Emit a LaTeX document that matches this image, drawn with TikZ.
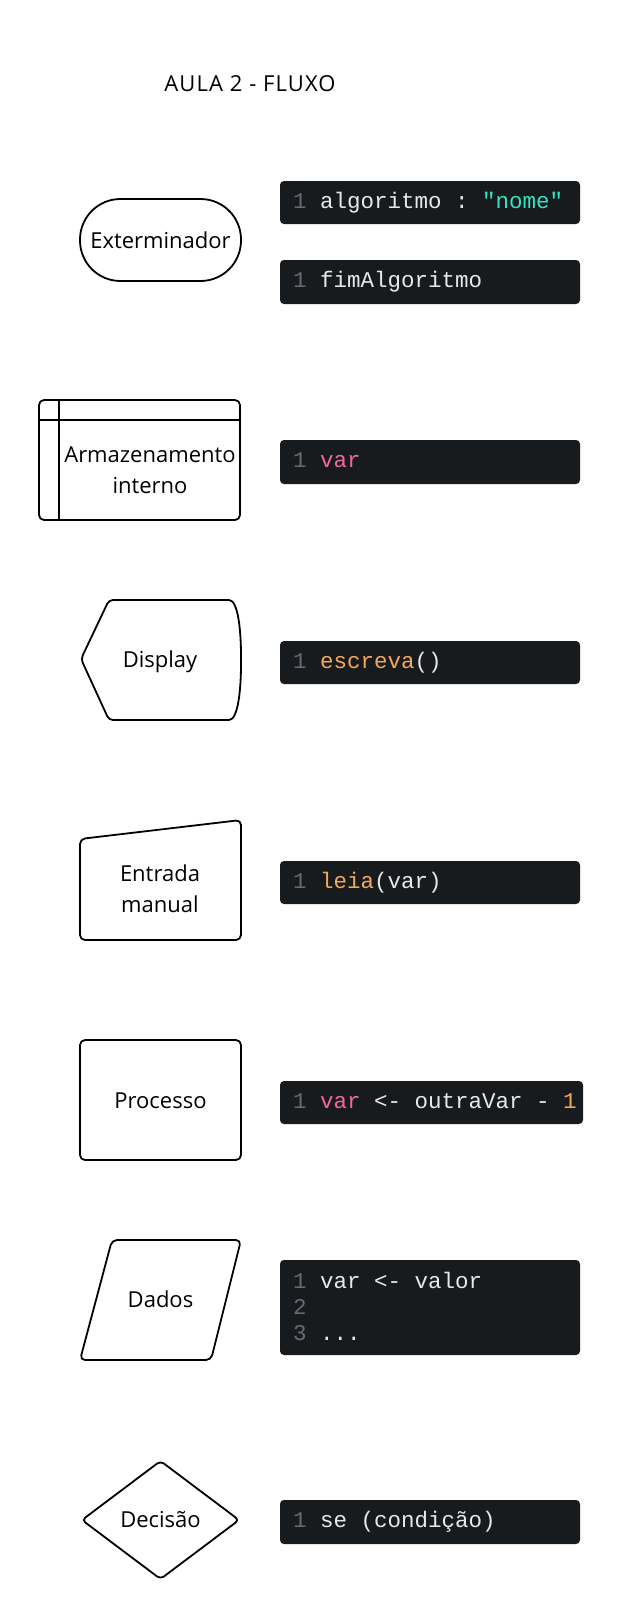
\documentclass[tikz,border=0pt]{standalone}
\usepackage{fontspec}
\setmainfont{Open Sans}
\setmonofont{Liberation Mono}
\definecolor{codebg}{HTML}{181B1E}
\definecolor{codefg}{HTML}{E8E8E8}
\definecolor{lnum}{HTML}{656C74}
\definecolor{cteal}{HTML}{33E3C3}
\definecolor{cpink}{HTML}{F2679E}
\definecolor{corange}{HTML}{F4A85A}
\begin{document}
\begin{tikzpicture}[x=1pt,y=-1pt,
  fig/.style={draw=black, line width=1.8pt, line join=round},
  lbl/.style={font=\fontsize{22}{26}\selectfont, inner sep=0pt, anchor=base},
  codebox/.style={fill=codebg, rounded corners=4pt},
  code/.style={font=\ttfamily\fontsize{22.5}{26}\selectfont, text=codefg, inner sep=0pt, anchor=base west}]
\fill[white] (0,0) rectangle (623,1620);
\useasboundingbox (0,0) rectangle (623,1620);

% title
\node[lbl, font=\fontsize{22}{26}\selectfont\addfontfeature{LetterSpace=5}] (title) at (250,91.5) {AULA 2 - FLUXO};

% Terminator
\draw[fig, rounded corners=40.5pt] (80,199) rectangle (241,281);
\node[lbl] (term) at (160.5,248) {Exterminador};
\fill[codebox] (280,181) rectangle (580,224);
\node[code] (c1) at (293,208) {\textcolor{lnum}{1} algoritmo : \textcolor{cteal}{"nome"}};
\fill[codebox] (280,260) rectangle (580,304);
\node[code] (c2) at (293,287) {\textcolor{lnum}{1} fimAlgoritmo};

% Internal storage
\draw[fig, rounded corners=5pt] (39,400) rectangle (240,520);
\draw[fig] (59,400) -- (59,520);
\draw[fig] (39,420) -- (240,420);
\node[lbl] (arm1) at (150,462) {Armazenamento};
\node[lbl] (arm2) at (150,493) {interno};
\fill[codebox] (280,440) rectangle (580,484);
\node[code] (c3) at (293,467) {\textcolor{lnum}{1} \textcolor{cpink}{var}};

% Display
\draw[fig, rounded corners=4pt] (81,659) -- (109,600) -- (225,600)
  .. controls (238,600) and (241,630) .. (241,660)
  .. controls (241,690) and (238,720) .. (225,720) -- (109,720) -- cycle;
\node[lbl] (disp) at (160,667) {Display};
\fill[codebox] (280,641) rectangle (580,684);
\node[code] (c4) at (293,668) {\textcolor{lnum}{1} \textcolor{corange}{escreva}()};

% Manual input
\draw[fig, rounded corners=5pt] (80,839) -- (241,820) -- (241,940) -- (80,940) -- cycle;
\node[lbl] (ent1) at (160,881) {Entrada};
\node[lbl] (ent2) at (160,912.5) {manual};
\fill[codebox] (280,861) rectangle (580,904);
\node[code] (c5) at (293,888) {\textcolor{lnum}{1} \textcolor{corange}{leia}(var)};

% Process
\draw[fig, rounded corners=5pt] (80,1040) rectangle (241,1160);
\node[lbl] (proc) at (160.5,1108) {Processo};
\fill[codebox] (280,1081) rectangle (583,1124);
\node[code] (c6) at (293,1108) {\textcolor{lnum}{1} \textcolor{cpink}{var} <- outraVar - \textcolor{corange}{1}};

% Data
\draw[fig, rounded corners=5pt] (112,1240) -- (241,1240) -- (211,1360) -- (80,1360) -- cycle;
\node[lbl] (dados) at (160.5,1307.5) {Dados};
\fill[codebox] (280,1260) rectangle (580,1355);
\node[code] (c7) at (293,1288) {\textcolor{lnum}{1} var <- valor};
\node[code] (c8) at (293,1314) {\textcolor{lnum}{2}};
\node[code] (c9) at (293,1340) {\textcolor{lnum}{3} ...};

% Decision
\draw[fig, rounded corners=4pt] (160.5,1461) -- (239,1520) -- (160.5,1579) -- (82,1520) -- cycle;
\node[lbl] (dec) at (160.5,1527.5) {Decisão};
\fill[codebox] (280,1500) rectangle (580,1544);
\node[code] (c10) at (293,1527) {\textcolor{lnum}{1} se (condição)};
\end{tikzpicture}
\end{document}
